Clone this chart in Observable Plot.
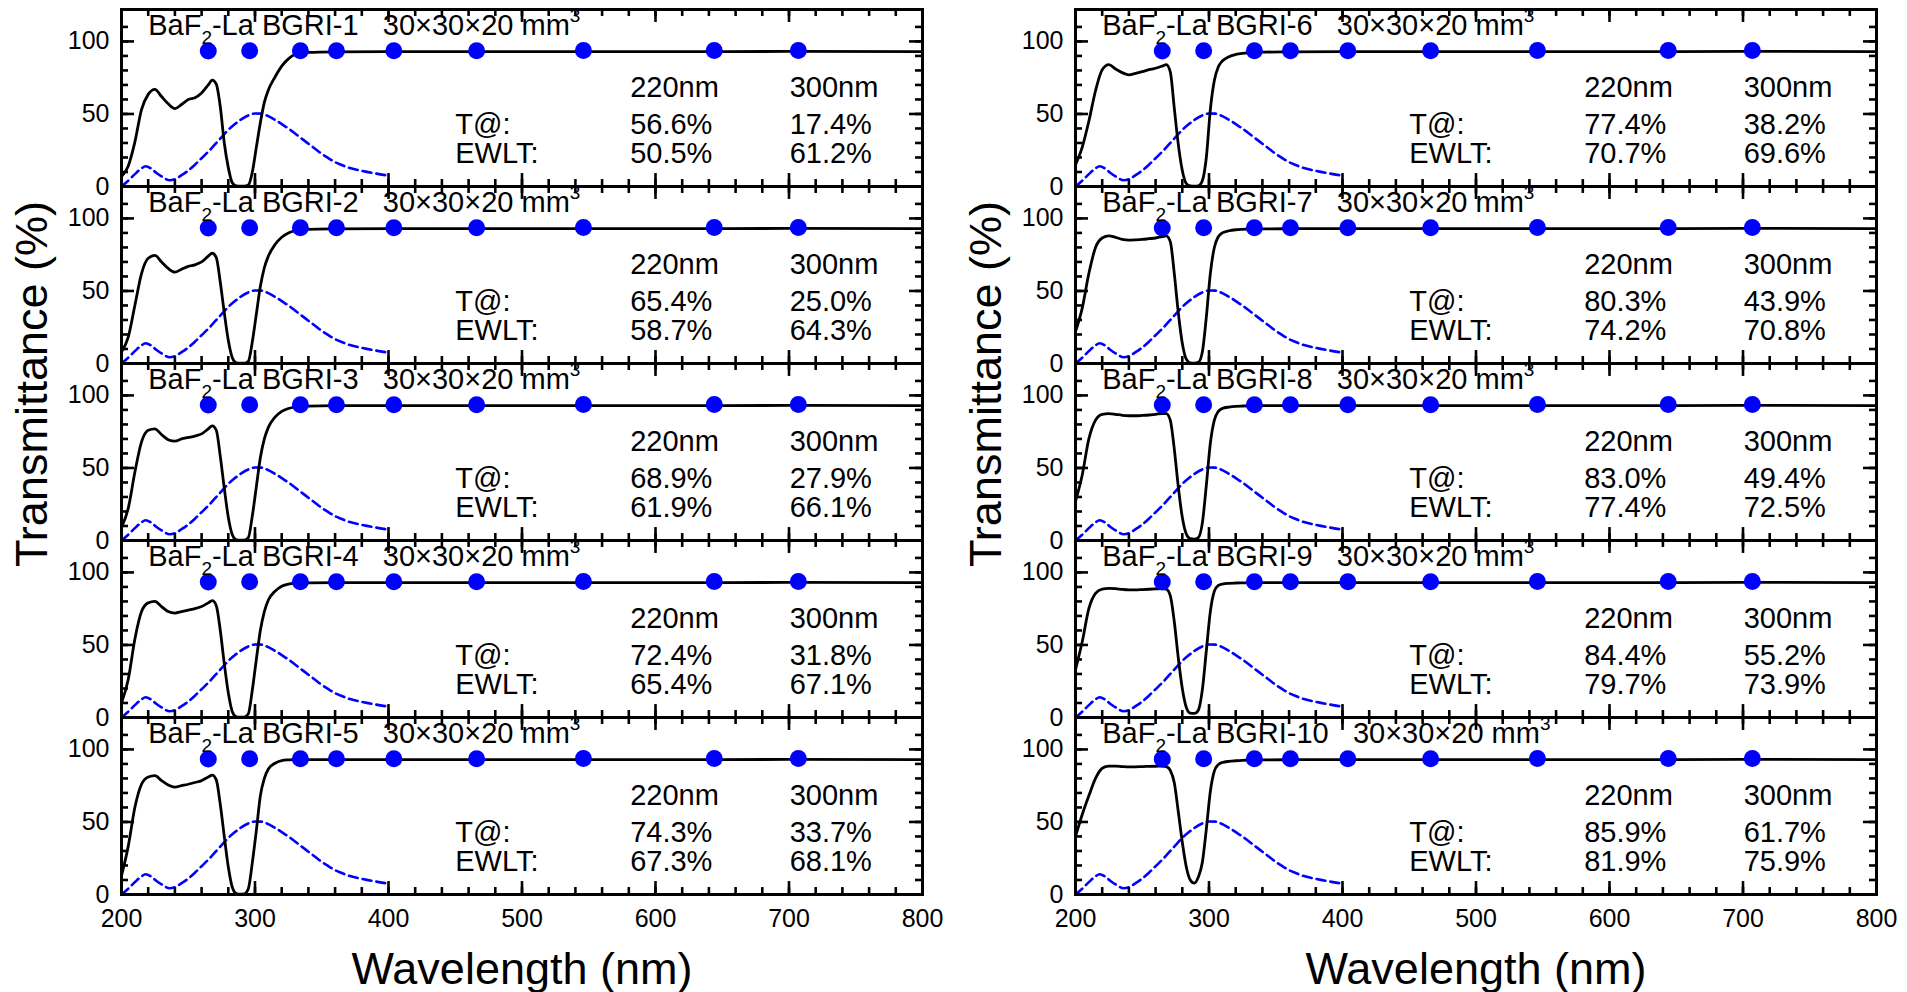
<!DOCTYPE html>
<html>
<head>
<meta charset="utf-8">
<script src="https://cdn.jsdelivr.net/npm/d3@7"></script>
<script src="https://cdn.jsdelivr.net/npm/@observablehq/plot@0.6"></script>
<style>
html, body { margin: 0; padding: 0; background: #fff; }
#chart { width: 1907px; height: 992px; }
</style>
</head>
<body>
<div id="chart"></div>
<script>
// ---------- data ----------
const samples = ["BGRI-1", "BGRI-2", "BGRI-3", "BGRI-4", "BGRI-5", "BGRI-6", "BGRI-7", "BGRI-8", "BGRI-9", "BGRI-10"];
const t220 = [56.6, 65.4, 68.9, 72.4, 74.3, 77.4, 80.3, 83.0, 84.4, 85.9];
const t300 = [17.4, 25.0, 27.9, 31.8, 33.7, 38.2, 43.9, 49.4, 55.2, 61.7];
const ewlt220 = [50.5, 58.7, 61.9, 65.4, 67.3, 70.7, 74.2, 77.4, 79.7, 81.9];
const ewlt300 = [61.2, 64.3, 66.1, 67.1, 68.1, 69.6, 70.8, 72.5, 73.9, 75.9];

const wavelengths = [200, 205, 210, 215, 220, 225, 230, 235, 240, 245, 250, 255, 260, 265,
  268, 271, 274, 277, 280, 283, 286, 289, 292, 295, 298, 301, 304, 307, 310,
  315, 320, 325, 330, 340, 360, 400, 500, 600, 700, 800];

const T_BGRI1 = [6.8, 14, 30.6, 53, 63.5, 67, 62, 57, 53.7, 56.5, 60, 61.2, 64.5, 70, 73.3, 70.5, 55, 30, 13, 2.5, 0.4, 0.2, 0.2, 1, 10, 27, 44, 58, 66.5, 75.5, 83, 88, 91, 92.4, 92.8, 93, 93, 92.9, 93.1, 93];
const T_BGRI2 = [8, 18, 40, 62, 72.5, 74.5, 70, 65.5, 63, 65, 67, 68, 70, 74, 76, 73, 56, 35, 16, 4, 0.5, 0.2, 0.2, 1.5, 15, 34, 53, 66, 74, 82, 87, 90, 91.5, 92.5, 92.8, 93, 93, 92.9, 93.1, 93];
const T_BGRI3 = [9, 22, 47, 68, 76, 77, 73, 69.5, 68.5, 70, 71, 72, 73.5, 77, 79, 76, 58, 36, 16, 4, 0.5, 0.2, 0.3, 2, 17, 37, 57, 70, 78, 85, 89, 91, 92, 92.6, 92.9, 93, 93, 92.9, 93.1, 93];
const T_BGRI4 = [10, 26, 54, 73, 79, 80, 76.5, 73, 72, 73, 74, 75, 76.5, 79, 80.5, 77, 60, 37, 17, 4, 0.5, 0.2, 0.3, 2.5, 19, 40, 60, 73, 81, 87, 90.5, 92, 92.5, 92.8, 93, 93, 93, 92.9, 93.1, 93];
const T_BGRI5 = [13, 33, 60, 76, 81, 82, 78.5, 75.5, 74, 75, 76, 77.2, 78.5, 81, 82.3, 79, 62, 40, 19, 5, 0.7, 0.3, 0.5, 4, 22, 44, 68, 80, 86.5, 90.5, 92.3, 92.8, 93, 93, 93, 93, 93, 92.9, 93.1, 93];
const T_BGRI6 = [15, 27, 45, 66, 80.5, 84, 81, 78.5, 77, 78, 79.2, 80.5, 81.5, 83, 84, 79, 54, 29, 11, 2, 0.5, 0.3, 0.5, 4, 20, 53, 73, 82.5, 86.5, 89.5, 91, 91.8, 92.2, 92.6, 92.8, 93, 93, 92.9, 93.1, 93];
const T_BGRI7 = [22, 38, 62, 80, 86.5, 88, 87, 85.5, 85, 85.2, 85.5, 86, 86.5, 87.5, 88, 84, 62, 35, 14, 3, 0.5, 0.3, 0.8, 8, 32, 62, 80, 87.5, 90, 91.5, 92.2, 92.5, 92.7, 92.8, 92.9, 93, 93, 92.9, 93.1, 93];
const T_BGRI8 = [27, 45, 70, 83, 87, 87.5, 87, 86.3, 86, 86, 86.2, 86.5, 87, 87.5, 87.5, 83, 63, 37, 16, 4.5, 1.2, 1, 2, 12, 38, 67, 83, 89, 91, 92, 92.5, 92.7, 92.8, 92.9, 93, 93, 93, 92.9, 93.1, 93];
const T_BGRI9 = [33, 52, 75, 85.5, 88.5, 89, 88.8, 88.3, 88, 88, 88.2, 88.4, 88.6, 88.8, 88.5, 84, 66, 41, 20, 7, 3, 2.8, 5, 19, 46, 73, 87, 91, 92, 92.5, 92.7, 92.8, 92.9, 93, 93, 93, 93, 92.9, 93.1, 93];
const T_BGRI10 = [40, 55, 68, 80, 87, 88.5, 88.5, 88.2, 88, 88, 88.2, 88.3, 88.4, 88.5, 88.2, 85.5, 77, 57, 36, 19, 10, 7.8, 12, 22, 45, 71, 85, 89.5, 91, 91.8, 92.2, 92.5, 92.7, 92.8, 92.9, 93, 93, 92.9, 93.1, 93];
const transmittance = [T_BGRI1, T_BGRI2, T_BGRI3, T_BGRI4, T_BGRI5, T_BGRI6, T_BGRI7, T_BGRI8, T_BGRI9, T_BGRI10];

// theoretical transmittance points
const dotWavelengths = [265, 296, 334, 361, 404, 466, 546, 644, 707];
const dotT = [93.4, 93.5, 93.5, 93.6, 93.6, 93.6, 93.7, 93.7, 93.7];

// BaF2 emission spectrum (a.u., dashed blue)
const emissionNm = [200, 205, 210, 215, 218, 222, 226, 230, 236, 240, 245, 250, 255, 260, 265, 270, 275, 280, 285, 290, 295, 300, 305, 310, 315, 320, 325, 330, 335, 340, 345, 350, 355, 360, 365, 370, 380, 390, 400];
const emissionI = [0, 4, 8.5, 12.5, 14, 12.5, 9.5, 7, 4.3, 5, 7.8, 11, 15, 19.5, 24, 29, 34, 39, 43, 46.5, 49, 50.3, 50.2, 48.5, 46, 43, 40, 36.5, 33, 29.5, 26, 22.5, 19.5, 16.8, 14.8, 13, 10.8, 9, 7.5];

// tick values
const xMajorTicks = [200, 300, 400, 500, 600, 700, 800];
const xMinorTicks = [200, 220, 240, 260, 280, 300, 320, 340, 360, 380, 400, 420, 440, 460, 480, 500, 520, 540, 560, 580, 600, 620, 640, 660, 680, 700, 720, 740, 760, 780, 800];
const yMajorTicks = [0, 50, 100];
const yMinorTicks = [0, 10, 20, 30, 40, 50, 60, 70, 80, 90, 100, 110];

const xTitle = "Wavelength (nm)";
const yTitle = "Transmittance (%)";
const colLabels = ["L", "R"];

// ---------- tables ----------
const panels = samples.map((name, i) => ({
  name, col: i < 5 ? "L" : "R", row: i % 5,
  t220: t220[i], t300: t300[i], e220: ewlt220[i], e300: ewlt300[i]
}));
const curveRows = [];
samples.forEach((name, i) => {
  wavelengths.forEach((nm, j) => curveRows.push({name, col: i < 5 ? "L" : "R", row: i % 5, nm, T: transmittance[i][j]}));
});
const dots = dotWavelengths.map((nm, i) => ({nm, T: dotT[i]}));
const emission = emissionNm.map((nm, i) => ({nm, I: emissionI[i]}));

// ---------- layout ----------
const W = 1907, H = 992, ML = 120, MR = 30, MT = 7, MB = 96, FX_PAD = 0.16;
const X0 = 200, X1 = 800, Y0 = 0, Y1 = 122;
const panelH = (H - MT - MB) / 5;
const panelW = (W - ML - MR) / (2 - FX_PAD) * (1 - FX_PAD);
const pxPerY = panelH / (Y1 - Y0), pxPerX = panelW / (X1 - X0);
const MINOR = 7, MAJOR = 13;   // tick lengths in px

const FONT = "'Liberation Sans', Arial, Helvetica, sans-serif";
const pct = v => v.toFixed(1) + "%";
const tk = {stroke: "black", strokeWidth: 2.6};
// inward tick rules, on all four sides
const xTicks = (vals, len) => [
  Plot.ruleX(vals, {x: d => d, y1: () => Y0, y2: () => Y0 + len / pxPerY, ...tk}),
  Plot.ruleX(vals, {x: d => d, y1: () => Y1 - len / pxPerY, y2: () => Y1, ...tk})
];
const yTicks = (vals, len) => [
  Plot.ruleY(vals, {y: d => d, x1: () => X0, x2: () => X0 + len / pxPerX, ...tk}),
  Plot.ruleY(vals, {y: d => d, x1: () => X1 - len / pxPerX, x2: () => X1, ...tk})
];

const plot = Plot.plot({
  width: W,
  height: H,
  marginLeft: ML,
  marginRight: MR,
  marginTop: MT,
  marginBottom: MB,
  style: {fontFamily: FONT, fontSize: "24px", color: "black", background: "white"},
  x: {domain: [X0, X1]},
  y: {domain: [Y0, Y1]},
  fx: {domain: colLabels, axis: null, paddingInner: FX_PAD, paddingOuter: 0},
  fy: {domain: [0, 1, 2, 3, 4], axis: null, paddingInner: 0, paddingOuter: 0},
  marks: [
    // emission spectrum (same in every panel)
    Plot.line(emission, {x: "nm", y: "I", stroke: "#0000ff", strokeWidth: 2.6, strokeDasharray: "9,5", curve: "monotone-x"}),
    // measured transmittance
    Plot.line(curveRows, {x: "nm", y: "T", z: "name", fx: "col", fy: "row", stroke: "black", strokeWidth: 2.8, curve: "monotone-x"}),
    // theoretical points
    Plot.dot(dots, {x: "nm", y: "T", r: 8.5, fill: "#0000ff", stroke: "none"}),
    // ticks
    ...xTicks(xMinorTicks, MINOR),
    ...xTicks(xMajorTicks, MAJOR),
    ...yTicks(yMinorTicks, MINOR),
    ...yTicks(yMajorTicks, MAJOR),
    // tick labels
    Plot.axisX({anchor: "bottom", ticks: xMajorTicks, tickSize: 0, tickPadding: 15, facetAnchor: "bottom", label: null, fontSize: 25, fill: "black"}),
    Plot.axisY({anchor: "left", ticks: yMajorTicks, tickSize: 0, tickPadding: 12, facetAnchor: null, label: null, fontSize: 25, fill: "black"}),
    Plot.frame({stroke: "black", strokeWidth: 3}),
    // panel titles
    Plot.text(panels, {fx: "col", fy: "row", x: () => 220, y: () => 110.5, text: d => `BaF₂-La ${d.name}   30×30×20 mm³`, textAnchor: "start", fontSize: 29, fill: "black"}),
    // annotation table
    Plot.text(panels, {fx: "col", fy: "row", x: () => 581, y: () => 68, text: () => "220nm", textAnchor: "start", fontSize: 29, fill: "black"}),
    Plot.text(panels, {fx: "col", fy: "row", x: () => 700.5, y: () => 68, text: () => "300nm", textAnchor: "start", fontSize: 29, fill: "black"}),
    Plot.text(panels, {fx: "col", fy: "row", x: () => 450, y: () => 42.6, text: () => "T@:", textAnchor: "start", fontSize: 29, fill: "black"}),
    Plot.text(panels, {fx: "col", fy: "row", x: () => 450, y: () => 22.5, text: () => "EWLT:", textAnchor: "start", fontSize: 29, fill: "black"}),
    Plot.text(panels, {fx: "col", fy: "row", x: () => 581, y: () => 42.6, text: d => pct(d.t220), textAnchor: "start", fontSize: 29, fill: "black"}),
    Plot.text(panels, {fx: "col", fy: "row", x: () => 700.5, y: () => 42.6, text: d => pct(d.t300), textAnchor: "start", fontSize: 29, fill: "black"}),
    Plot.text(panels, {fx: "col", fy: "row", x: () => 581, y: () => 22.5, text: d => pct(d.e220), textAnchor: "start", fontSize: 29, fill: "black"}),
    Plot.text(panels, {fx: "col", fy: "row", x: () => 700.5, y: () => 22.5, text: d => pct(d.e300), textAnchor: "start", fontSize: 29, fill: "black"}),
    // axis titles
    Plot.text(colLabels, {fx: d => d, fy: () => 2, frameAnchor: "left", textAnchor: "middle", text: () => yTitle, rotate: -90, dx: -89, dy: -68, fontSize: 45, fill: "black"}),
    Plot.text(colLabels, {fx: d => d, fy: () => 4, frameAnchor: "bottom", textAnchor: "middle", text: () => xTitle, dy: 89, fontSize: 45, fill: "black"})
  ]
});

// subscript / superscript in panel titles
d3.select(plot).selectAll("text").each(function () {
  const s = this.textContent;
  if (!s.startsWith("BaF₂")) return;
  const [a, rest] = s.split("₂");
  const b = rest.split("³")[0];
  const t = d3.select(this);
  t.text(null).attr("xml:space", "preserve").style("white-space", "pre");
  t.append("tspan").text(a);
  t.append("tspan").attr("dy", 9).attr("font-size", 19).text("2");
  t.append("tspan").attr("dy", -9).text(b);
  t.append("tspan").attr("dy", -13).attr("font-size", 19).text("3");
});

document.getElementById("chart").appendChild(plot);
</script>
</body>
</html>
